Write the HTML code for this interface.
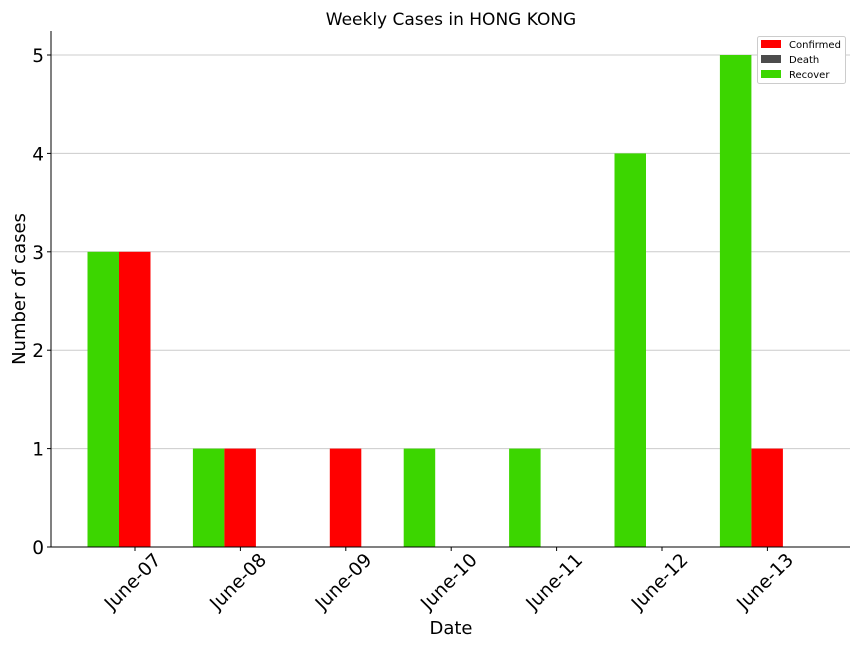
<!DOCTYPE html>
<html><head><meta charset="utf-8"><style>
body{margin:0;background:#fff}
svg text{font-family:"DejaVu Sans","Liberation Sans",sans-serif;fill:#000}
</style></head><body>
<svg width="864" height="648" viewBox="0 0 864 648">
<rect width="864" height="648" fill="#fff"/>
<g id="grid"></g>
<g id="bars"></g>
<g id="axes"></g>
<text x="451" y="25" font-size="17" text-anchor="middle">Weekly Cases in HONG KONG</text>
<text x="451" y="634" font-size="18" text-anchor="middle">Date</text>
<text transform="translate(25,289) rotate(-90)" font-size="18" text-anchor="middle">Number of cases</text>
<g>
<rect x="757.5" y="36.5" width="88" height="47" fill="#fff" stroke="#ccc" rx="2"/>
<rect x="761" y="40" width="20" height="8" fill="#ff0000"/>
<text x="789" y="48" font-size="10">Confirmed</text>
<rect x="761" y="55" width="20" height="8" fill="#4c4c4c"/>
<text x="789" y="63" font-size="10">Death</text>
<rect x="761" y="70" width="20" height="8" fill="#3cd600"/>
<text x="789" y="78" font-size="10">Recover</text>
</g>
</svg>
<script>
const categories=["June-07","June-08","June-09","June-10","June-11","June-12","June-13"];
const confirmed=[3,1,1,0,0,0,1];
const death=[0,0,0,0,0,0,0];
const recover=[3,1,0,1,1,4,5];
const yTicks=[0,1,2,3,4,5];
const NS="http://www.w3.org/2000/svg";
const L=51,R=850,T=31,B=547;
const y=v=>B-v*98.4;
const step=105.4, bw=31.5;
const gc=i=>119+i*step;
function mk(t,a,p){const e=document.createElementNS(NS,t);for(const k in a)e.setAttribute(k,a[k]);p.appendChild(e);return e;}
const grid=document.getElementById('grid'),bars=document.getElementById('bars'),axes=document.getElementById('axes');
yTicks.forEach(v=>{
  const g=mk('line',{x1:L,x2:R,y1:y(v),y2:y(v),stroke:'#cccccc','stroke-width':1},grid);
  
  
  mk('line',{x1:L-4,x2:L,y1:y(v),y2:y(v),stroke:'#000'},axes);
  const t=mk('text',{x:L-7,y:y(v)+7,'font-size':18.5,'text-anchor':'end'},axes);
  t.textContent=v;
  
  
});
categories.forEach((c,i)=>{
  const cx=gc(i);
  const r1=mk('rect',{x:cx-bw,y:y(recover[i]),width:bw,height:B-y(recover[i]),fill:'#3cd600'},bars);
  
  
  const r2=mk('rect',{x:cx,y:y(confirmed[i]),width:bw,height:B-y(confirmed[i]),fill:'#ff0000'},bars);
  
  
  const r3=mk('rect',{x:cx+bw,y:y(death[i]),width:bw,height:B-y(death[i]),fill:'#4c4c4c'},bars);
  
  
  const tx=cx+16;
  mk('line',{x1:tx,x2:tx,y1:B,y2:B+4,stroke:'#000'},axes);
  const t=mk('text',{transform:`translate(${tx+27},${B+14}) rotate(-45)`,'font-size':18.5,'text-anchor':'end'},axes);
  t.textContent=c;
  
  
});
const ya=mk('line',{x1:L,x2:L,y1:T,y2:B,stroke:'#000'},axes);


const xa=mk('line',{x1:L,x2:R,y1:B,y2:B,stroke:'#000'},axes);


</script>
</body></html>
